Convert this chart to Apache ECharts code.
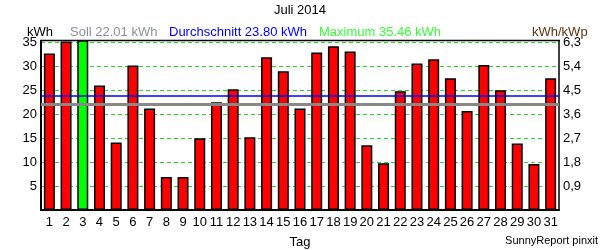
<!DOCTYPE html>
<html><head><meta charset="utf-8">
<script src="https://cdn.jsdelivr.net/npm/echarts@6/dist/echarts.min.js"></script>
<style>html,body{margin:0;padding:0;background:#fff}#c{width:600px;height:250px}</style>
</head><body><div id="c"></div>
<script>
const days = ['1','2','3','4','5','6','7','8','9','10','11','12','13','14','15','16','17','18','19','20','21','22','23','24','25','26','27','28','29','30','31'];
const yields = [32.7,35.2,35.46,26.0,14.1,30.2,21.2,6.9,6.9,15.0,22.5,25.2,15.2,31.9,29.0,21.2,32.9,34.2,33.1,13.5,9.75,24.8,30.6,31.5,27.5,20.7,30.3,25.0,13.9,9.6,27.5];
const soll = 22.01;
const average = 23.80;
const maximum = 35.46;
const leftTicks = [5,10,15,20,25,30,35];
const rightTickLabels = ['0,9','1,8','2,7','3,6','4,5','5,4','6,3'];
const titleText = 'Juli 2014';
const FONT = "'Liberation Sans', Arial, sans-serif";

const maxIdx = yields.indexOf(Math.max(...yields));
const barData = yields.map((v,i)=> i===maxIdx ? {value:v, itemStyle:{color:'#00ff00'}} : v);

const chart = echarts.init(document.getElementById('c'), null, {renderer:'canvas'});
function txt(x,y,text,color,align,size){
  return {type:'text', x:x, y:y, z:10, style:{text:text, fill:color, font:(size||13)+'px '+FONT, textAlign:align||'left', textVerticalAlign:'middle'}};
}
chart.setOption({
  animation:false,
  grid:{left:41,right:41,top:41,bottom:40,show:false},
  xAxis:{type:'category',data:days,
    axisLine:{show:true,lineStyle:{color:'#000',width:2}},
    axisTick:{show:false},
    axisLabel:{color:'#000',fontFamily:FONT,fontSize:13,margin:6,interval:0},
    splitLine:{show:false}},
  yAxis:[
    {type:'value',min:0,max:35.3,interval:5,position:'left',
      axisLine:{show:true,lineStyle:{color:'#000',width:2}},
      axisTick:{show:false},
      axisLabel:{color:'#000',fontFamily:FONT,fontSize:13,margin:4,
        formatter:v=>leftTicks.indexOf(v)>=0?String(v):''},
      splitLine:{show:true,showMinLine:false,showMaxLine:false,lineStyle:{color:'#22dd22',type:[4,3],width:1}}},
    {type:'value',min:0,max:35.3,interval:5,position:'right',
      axisLine:{show:true,lineStyle:{color:'#000',width:1.5}},
      axisTick:{show:false},
      axisLabel:{color:'#000',fontFamily:FONT,fontSize:13,margin:4,
        formatter:v=>{const i=leftTicks.indexOf(v);return i>=0?rightTickLabels[i]:'';}},
      splitLine:{show:false}}
  ],
  series:[{type:'bar',data:barData,barWidth:11,
    itemStyle:{color:'#ff0000',borderColor:'#000',borderWidth:1.5},
    markLine:{silent:true,symbol:'none',label:{show:false},
      data:[
        {yAxis:soll,lineStyle:{color:'#888888',width:3,type:'solid'}},
        {yAxis:average,lineStyle:{color:'#0000ff',width:1.5,type:'solid'}}
      ]}}],
  graphic:[
    {type:'line',z:10,shape:{x1:40,y1:40.5,x2:560,y2:40.5},style:{stroke:'#000',lineWidth:1.5}},
    txt(300,10,titleText,'#000','center'),
    txt(27,32,'kWh','#000'),
    txt(70,32,'Soll '+soll.toFixed(2)+' kWh','#8a8fa0'),
    txt(169,32,'Durchschnitt '+average.toFixed(2)+' kWh','#0000ff'),
    txt(319,32,'Maximum '+maximum.toFixed(2)+' kWh','#33ff33'),
    txt(532,32,'kWh/kWp','#5c3310'),
    txt(300,242,'Tag','#000','center'),
    txt(598,241,'SunnyReport pinxit','#000','right',11)
  ]
});
</script></body></html>
